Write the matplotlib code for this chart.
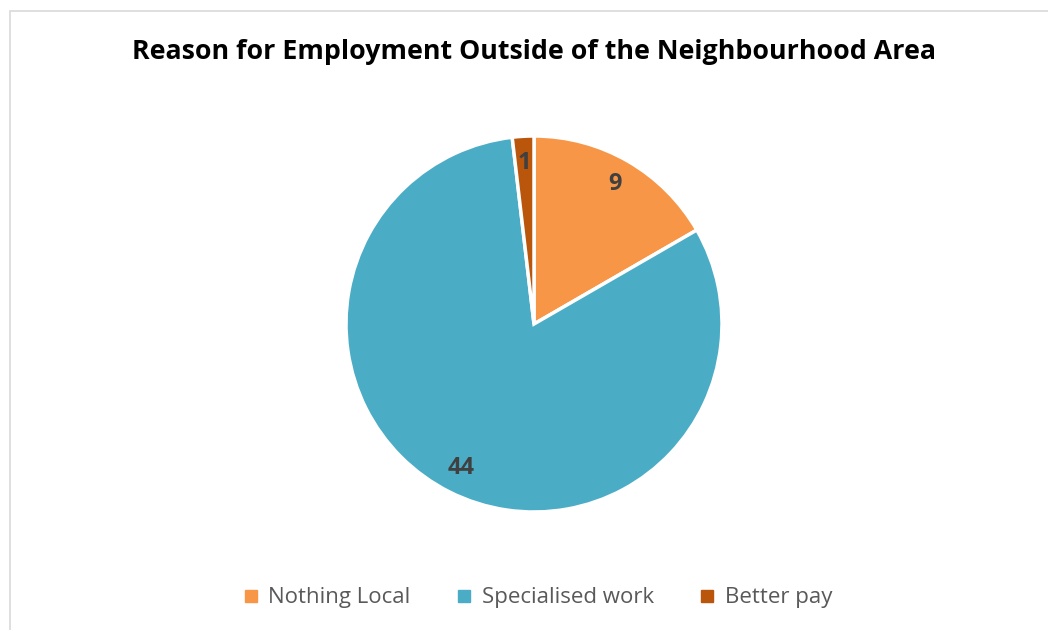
import matplotlib
matplotlib.use("Agg")
import matplotlib.pyplot as plt
from matplotlib.patches import Rectangle
from matplotlib.lines import Line2D

categories = ["Nothing Local", "Specialised work", "Better pay"]
values = [9, 44, 1]
colors = ["#F79646", "#4BACC6", "#BA560C"]
title = "Reason for Employment Outside of the Neighbourhood Area"

W, H = 1048, 630
fig = plt.figure(figsize=(W / 100, H / 100), dpi=100)
fig.patch.set_facecolor("white")

# chart frame
fig.patches.append(Rectangle((10 / W, -0.1), 1.2, 1 - 11 / H + 0.1,
                             transform=fig.transFigure, fill=False,
                             edgecolor="#D9D9D9", linewidth=1.2))

cx, cy, r = 534, 324, 188
ax = fig.add_axes([(cx - r) / W, (H - cy - r) / H, 2 * r / W, 2 * r / H])
wedges, texts, autotexts = ax.pie(
    values, colors=colors, startangle=90, counterclock=False, radius=1,
    autopct=lambda p: f"{round(p * sum(values) / 100):d}", pctdistance=0.86,
    wedgeprops=dict(edgecolor="white", linewidth=2.5),
    textprops=dict(color="#404040", fontsize=17, fontweight="bold", family="Open Sans"))
ax.set_xlim(-1, 1)
ax.set_ylim(-1, 1)
ax.set_aspect("equal")
ax.axis("off")

fig.text(534 / W, 1 - 52 / H, title, ha="center", va="center",
         fontsize=19.3, fontweight="bold", family="Open Sans", color="black")

handles = [Line2D([], [], marker="s", linestyle="none", markersize=8,
                  markerfacecolor=c, markeredgecolor=c) for c in colors]
fig.legend(handles, categories, loc="center", bbox_to_anchor=(537 / W, 1 - 598 / H),
           ncol=3, frameon=False, handletextpad=0.4, columnspacing=2.0,
           handlelength=0.8, prop=dict(family="Open Sans", size=16),
           labelcolor="#595959")

fig.savefig("out.png", dpi=100, facecolor="white")
